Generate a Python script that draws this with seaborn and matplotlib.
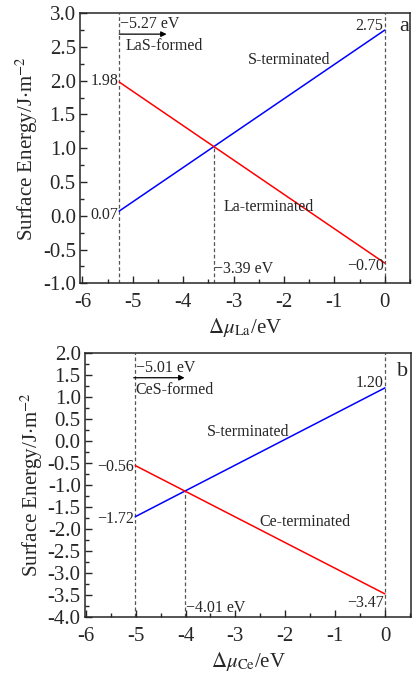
import numpy as np
import pandas as pd
import matplotlib
matplotlib.use("Agg")
import matplotlib.pyplot as plt
from matplotlib.ticker import MultipleLocator
import seaborn as sns

# ---- data ----
# panel a (La)
a_x = [-5.27, 0.0]
a_S = [0.07, 2.75]
a_M = [1.98, -0.70]
a_cross = -3.39
a_cross_y = 1.026
# panel b (Ce)
b_x = [-5.01, 0.0]
b_S = [-1.72, 1.20]
b_M = [-0.56, -3.47]
b_cross = -4.01
b_cross_y = -1.13

sns.set_style("ticks")
plt.rcParams['font.family'] = ['Liberation Serif', 'DejaVu Serif']
plt.rcParams['mathtext.fontset'] = 'stix'
plt.rcParams['axes.unicode_minus'] = False
plt.rcParams['xtick.direction'] = 'in'
plt.rcParams['ytick.direction'] = 'in'

fig = plt.figure(figsize=(4.12, 6.77), dpi=100)
ax1 = fig.add_axes([0.194, 0.5815, 0.801, 0.399])
ax2 = fig.add_axes([0.206, 0.0882, 0.7925, 0.391])

def panel(ax, xs, S, M, cross, cross_y, ylim, elem, comp, letter, texts):
    df = pd.DataFrame({'x': xs * 2, 'y': S + M,
                       'series': ['S'] * len(xs) + ['M'] * len(xs)})
    sns.lineplot(data=df, x='x', y='y', hue='series',
                 palette={'S': '#0000ff', 'M': '#ff0000'}, ax=ax,
                 legend=False, linewidth=1.1)
    for xv in [xs[0], xs[1]]:
        ax.axvline(xv, color='#555555', ls=(0, (3, 2)), lw=0.9, zorder=0)
    ax.vlines(cross, ylim[0], cross_y, color='#555555', ls=(0, (3, 2)), lw=0.9, zorder=0)
    ax.set_ylim(*ylim)
    ax.set_xticks([-6, -5, -4, -3, -2, -1, 0])
    ax.xaxis.set_minor_locator(MultipleLocator(0.5))
    ax.yaxis.set_major_locator(MultipleLocator(0.5))
    ax.yaxis.set_minor_locator(MultipleLocator(0.25))
    ax.tick_params(which='major', length=5, width=1, labelsize=15)
    ax.tick_params(axis='x', which='major', pad=7)
    ax.tick_params(axis='y', which='major', pad=3)
    ax.tick_params(which='minor', length=3, width=1)
    ax.set_yticklabels([f"{v:.1f}" for v in ax.get_yticks()])
    ax.set_ylim(*ylim)
    for s in ax.spines.values():
        s.set_linewidth(1.1)
        s.set_visible(True)
    ax.set_xlabel(r"$\Delta\mu_{\rm %s}$/eV" % elem, fontsize=15, labelpad=3)
    ax.set_ylabel(r"Surface Energy/J$\cdot$m$^{-2}$", fontsize=15, labelpad=2)
    # annotations
    t = texts
    ax.annotate('', xy=(t['arrow'][1], t['arrow'][2]), xytext=(t['arrow'][0], t['arrow'][2]),
                arrowprops=dict(arrowstyle='-|>', color='black', lw=0.9,
                                mutation_scale=8, shrinkA=0, shrinkB=0))
    fs = 11.5
    ax.text(t['ev'][0], t['ev'][1], "\u2212%.2f eV" % abs(xs[0]), fontsize=fs, ha='left', va='center')
    ax.text(t['form'][0], t['form'][1], comp + "-formed", fontsize=fs, ha='left', va='center')
    ax.text(t['sterm'][0], t['sterm'][1], "S-terminated", fontsize=fs, ha='center', va='center')
    ax.text(t['mterm'][0], t['mterm'][1], elem + "-terminated", fontsize=fs, ha='center', va='center')
    ax.text(t['cross'][0], t['cross'][1], "\u2212%.2f eV" % abs(cross), fontsize=fs, ha='left', va='center')
    for key, val in [('s0', S[0]), ('m0', M[0]), ('s1', S[1]), ('m1', M[1])]:
        txt = ("\u2212%.2f" % abs(val)) if val < 0 else ("%.2f" % val)
        ax.text(t[key][0], t[key][1], txt, fontsize=fs, ha='right', va='center')
    ax.text(t['letter'][0], t['letter'][1], letter, fontsize=16, ha='center', va='center')

panel(ax1, a_x, a_S, a_M, a_cross, a_cross_y, (-1.0, 3.0), 'La', 'LaS', 'a',
      dict(arrow=(-5.27, -4.33, 2.69), ev=(-5.25, 2.84), form=(-5.15, 2.52),
           sterm=(-1.9, 2.31), mterm=(-2.3, 0.13), cross=(-3.38, -0.79),
           s0=(-5.29, 0.01), m0=(-5.29, 1.99), s1=(-0.04, 2.81), m1=(-0.02, -0.74),
           letter=(0.39, 2.80)))
panel(ax2, b_x, b_S, b_M, b_cross, b_cross_y, (-4.0, 2.0), 'Ce', 'CeS', 'b',
      dict(arrow=(-5.04, -4.02, 1.43), ev=(-5.0, 1.65), form=(-5.01, 1.15),
           sterm=(-2.75, 0.21), mterm=(-1.6, -1.85), cross=(-4.0, -3.80),
           s0=(-5.03, -1.78), m0=(-5.03, -0.60), s1=(-0.03, 1.31), m1=(-0.02, -3.67),
           letter=(0.36, 1.57)))
ax1.set_xlim(-6.05, 0.5)
ax2.set_xlim(-6.02, 0.53)

fig.savefig("out.png", dpi=100)
